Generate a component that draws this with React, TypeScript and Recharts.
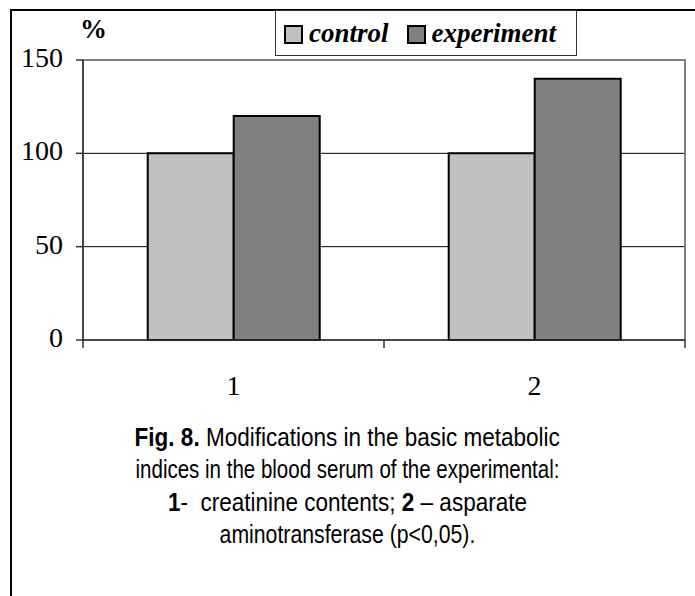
import React from 'react';
import { BarChart, Bar, XAxis, YAxis, CartesianGrid, Legend, ReferenceArea } from 'recharts';

const categories = ['1', '2'];
const controlValues = [100, 100];
const experimentValues = [120, 140];
const yTicks = [0, 50, 100, 150];
const seriesNames = ['control', 'experiment'];
const seriesColors = ['#C0C0C0', '#808080'];

const data = categories.map((name, i) => ({
  name,
  control: controlValues[i],
  experiment: experimentValues[i],
}));

const gridValues = yTicks.filter((v) => v > yTicks[0] && v < yTicks[yTicks.length - 1]);

const serif = '"Liberation Serif", "Times New Roman", serif';
const sans = '"Liberation Sans", Arial, sans-serif';

const LegendBox = () => (
  <div
    style={{
      width: 302,
      height: 46,
      boxSizing: 'border-box',
      border: '1px solid #333',
      display: 'flex',
      alignItems: 'center',
      paddingLeft: 8,
      fontFamily: serif,
      fontWeight: 'bold',
      fontStyle: 'italic',
      fontSize: 27,
      color: '#000',
    }}
  >
    {seriesNames.map((n, i) => (
      <div key={n} style={{ display: 'flex', alignItems: 'center', marginRight: i === 0 ? 18 : 0 }}>
        <div
          style={{
            width: 19,
            height: 19,
            boxSizing: 'border-box',
            border: '2px solid #000',
            background: seriesColors[i],
            marginRight: 6,
            marginTop: 2,
          }}
        />
        <span style={{ lineHeight: '27px' }}>{n}</span>
      </div>
    ))}
  </div>
);

const XTick = (props: any) => {
  const { x, y, payload, index, width, visibleTicksCount } = props;
  const count = visibleTicksCount || categories.length;
  const band = (width || 0) / count;
  const left = x - band / 2;
  const right = x + band / 2;
  return (
    <g>
      <line x1={left} x2={left} y1={y} y2={y + 8} stroke="#333" strokeWidth={1.5} />
      {index === count - 1 && <line x1={right} x2={right} y1={y} y2={y + 8} stroke="#333" strokeWidth={1.5} />}
      <text x={x} y={y + 55} textAnchor="middle" fontFamily={serif} fontSize={28} fill="#000">
        {payload.value}
      </text>
    </g>
  );
};

const Caption = ({ children, sx }: { children: React.ReactNode; sx: number }) => (
  <div style={{ height: 32.4, display: 'flex', justifyContent: 'center' }}>
    <span style={{ display: 'inline-block', transform: `scaleX(${sx})`, transformOrigin: 'center', whiteSpace: 'pre' }}>
      {children}
    </span>
  </div>
);

export default function App() {
  return (
    <div style={{ position: 'absolute', left: 0, top: 0, width: 695, height: 596, background: '#fff', overflow: 'hidden' }}>
      <div
        style={{
          position: 'absolute',
          left: 10,
          top: 9,
          width: 700,
          height: 600,
          borderTop: '2px solid #000',
          borderLeft: '2px solid #000',
        }}
      />
      <div
        style={{
          position: 'absolute',
          left: 80,
          top: 14,
          fontFamily: serif,
          fontWeight: 'bold',
          fontSize: 27,
          color: '#000',
        }}
      >
        %
      </div>
      <div style={{ position: 'absolute', left: 0, top: 0 }}>
        <BarChart
          width={695}
          height={596}
          data={data}
          margin={{ top: 60, right: 10, left: 13, bottom: 196 }}
          barCategoryGap="21.5%"
          barGap={0}
        >
          <ReferenceArea y1={0} y2={150} fill="none" stroke="#808080" strokeWidth={2} ifOverflow="extendDomain" />
          <CartesianGrid horizontal vertical={false} stroke="#000" strokeWidth={1} horizontalValues={gridValues} />
          <XAxis
            dataKey="name"
            tickLine={false}
            tickSize={0}
            tickMargin={0}
            axisLine={{ stroke: '#333', strokeWidth: 1.5 }}
            tick={<XTick />}
            height={60}
          />
          <YAxis
            domain={[0, 150]}
            ticks={yTicks}
            width={70}
            tickSize={7}
            tickMargin={13}
            axisLine={{ stroke: '#333', strokeWidth: 1.5 }}
            tickLine={{ stroke: '#333', strokeWidth: 1.5 }}
            tick={{ fontFamily: serif, fontSize: 28, fill: '#000', dy: -3 }}
          />
          <Legend
            layout="vertical"
            align="center"
            verticalAlign="middle"
            content={() => <LegendBox />}
            wrapperStyle={{ left: 275, top: 10, width: 302, height: 46 }}
          />
          <Bar dataKey="control" name="control" fill={seriesColors[0]} stroke="#000" strokeWidth={2} isAnimationActive={false} />
          <Bar dataKey="experiment" name="experiment" fill={seriesColors[1]} stroke="#000" strokeWidth={2} isAnimationActive={false} />
        </BarChart>
      </div>
      <div
        style={{
          position: 'absolute',
          left: 0,
          width: 695,
          top: 421,
          textAlign: 'center',
          fontFamily: sans,
          fontSize: 25,
          lineHeight: '32.4px',
          color: '#000',
        }}
      >
        <Caption sx={0.9}><b>Fig. 8.</b> Modifications in the basic metabolic</Caption>
        <Caption sx={0.82}>indices in the blood serum of the experimental:</Caption>
        <Caption sx={0.9}><b>1</b>-  creatinine contents; <b>2</b> – asparate</Caption>
        <Caption sx={0.85}>aminotransferase (p&lt;0,05).</Caption>
      </div>
    </div>
  );
}
